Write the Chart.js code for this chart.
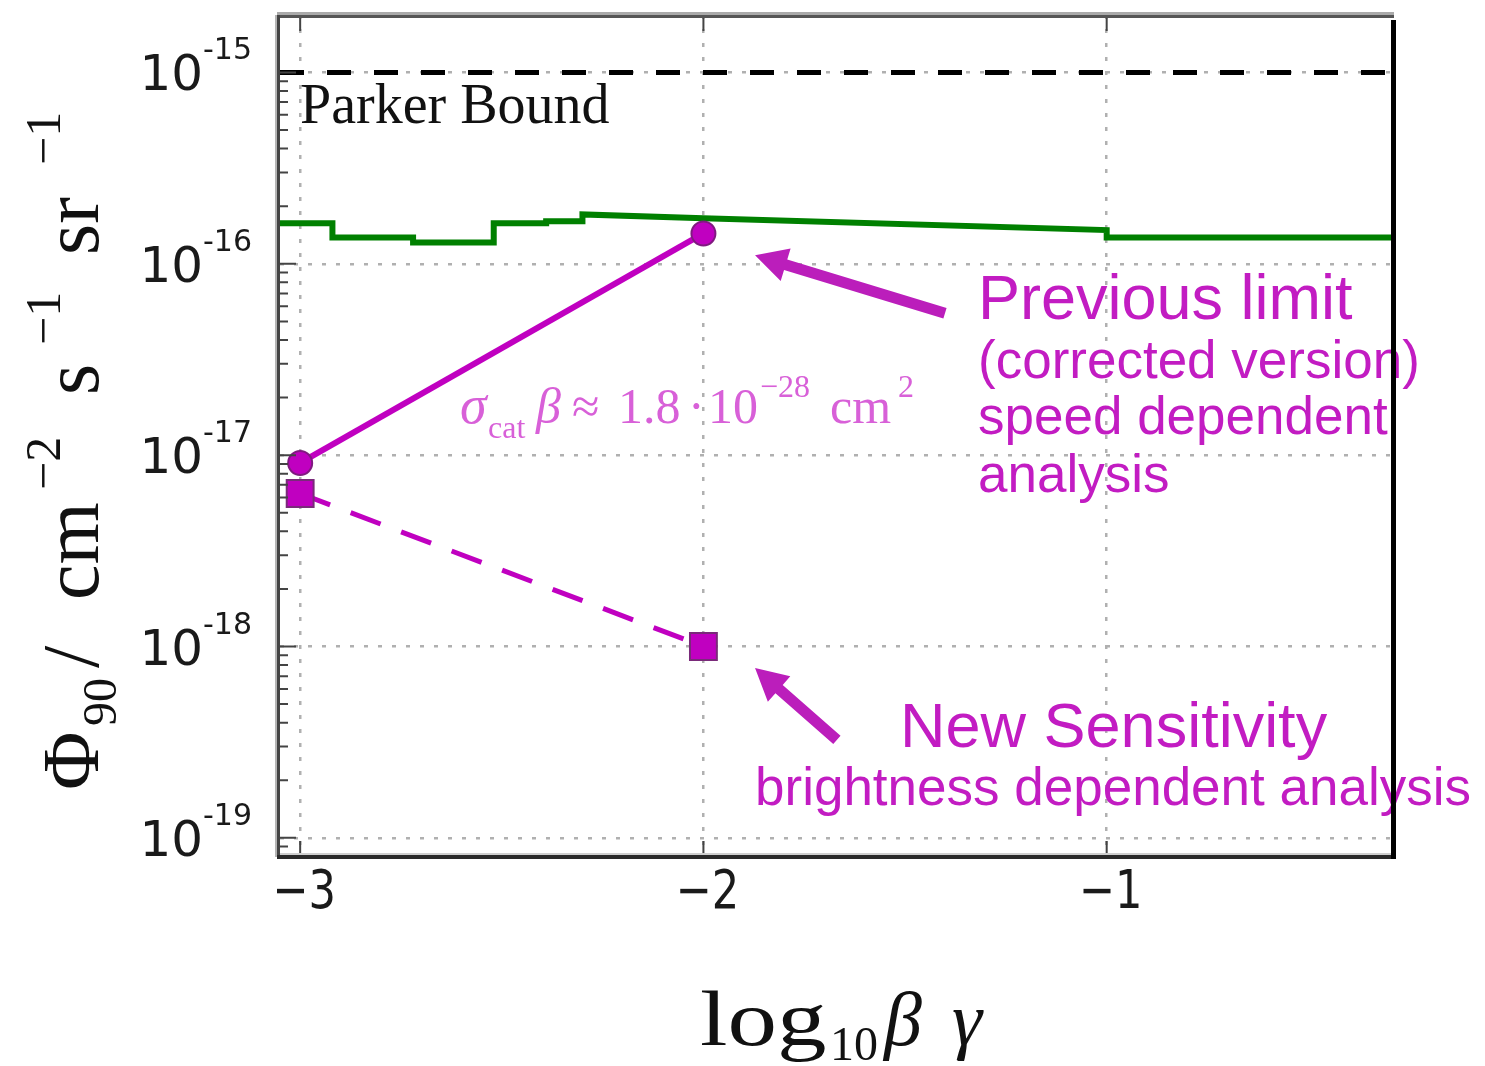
<!DOCTYPE html>
<html>
<head>
<meta charset="utf-8">
<script src="https://cdn.jsdelivr.net/npm/chart.js@4.4.1/dist/chart.umd.min.js"></script>
<style>
  html, body { margin: 0; padding: 0; background: #fff; }
  canvas { display: block; }
</style>
</head>
<body>
<canvas id="limitChart" width="1485" height="1066"></canvas>
<script>
// axis ranges (x is log10 of beta*gamma, y is the 90% flux limit)
const xMin = -3.05, xMax = -0.29;
const yMinExp = -19.1, yMaxExp = -14.7;
const xTicks = [-3, -2, -1];
const yTickExps = [-15, -16, -17, -18, -19];

// Parker bound
const parkerX = [xMin, xMax];
const parkerY = [1e-15, 1e-15];

// older published limit (green)
const greenX = [-3.05, -2.92, -2.92, -2.72, -2.72, -2.52, -2.52, -2.39, -2.39, -2.30, -2.30, -2.0, -1.0, -1.0, -0.29];
const greenY = [1.63e-16, 1.63e-16, 1.37e-16, 1.37e-16, 1.29e-16, 1.29e-16, 1.63e-16, 1.63e-16, 1.67e-16, 1.67e-16, 1.81e-16, 1.73e-16, 1.50e-16, 1.37e-16, 1.37e-16];

// previous limit, speed dependent analysis
const prevX = [-3, -2];
const prevY = [9.1e-18, 1.44e-16];

// new sensitivity, brightness dependent analysis
const newX = [-3, -2];
const newY = [6.3e-18, 1.0e-18];

// arrows: [tailX, tailY, headX, headY]
const arrowPrev = [-1.401, 5.51e-17, -1.872, 1.107e-16];
const arrowNew = [-1.669, 3.25e-19, -1.872, 7.73e-19];

const magenta = '#c000c0';
const textMagenta = '#c21cc2';

function pts(xs, ys) {
  return xs.map((x, i) => ({ x: x, y: ys[i] }));
}

function drawArrow(ctx, x1, y1, x2, y2) {
  const ang = Math.atan2(y2 - y1, x2 - x1);
  const len = Math.hypot(x2 - x1, y2 - y1);
  const shaft = 5.5, headLen = 32, headW = 17;
  ctx.save();
  ctx.translate(x1, y1);
  ctx.rotate(ang);
  ctx.fillStyle = '#bb1ebb';
  ctx.beginPath();
  ctx.moveTo(0, -shaft);
  ctx.lineTo(len - headLen, -shaft);
  ctx.lineTo(len - headLen, -headW);
  ctx.lineTo(len, 0);
  ctx.lineTo(len - headLen, headW);
  ctx.lineTo(len - headLen, shaft);
  ctx.lineTo(0, shaft);
  ctx.closePath();
  ctx.fill();
  ctx.restore();
}

// draws a run of text pieces: [text, font, x, baseline, xStretch]
function drawPieces(ctx, pieces, color) {
  ctx.fillStyle = color;
  ctx.textAlign = 'left';
  ctx.textBaseline = 'alphabetic';
  pieces.forEach(p => {
    ctx.font = p[1];
    ctx.save();
    ctx.translate(p[2], p[3]);
    ctx.scale(p[4] || 1, 1);
    ctx.fillText(p[0], 0, 0);
    ctx.restore();
  });
}

const decor = {
  id: 'decor',
  afterDatasetsDraw(chart) {
    const ctx = chart.ctx;
    const sx = chart.scales.x, sy = chart.scales.y;

    [arrowPrev, arrowNew].forEach(a => {
      drawArrow(ctx, sx.getPixelForValue(a[0]), sy.getPixelForValue(a[1]),
        sx.getPixelForValue(a[2]), sy.getPixelForValue(a[3]));
    });

    // Parker bound label
    ctx.fillStyle = '#111';
    ctx.font = '56px "Liberation Serif"';
    ctx.textAlign = 'left';
    ctx.fillText('Parker Bound', 300, 123);

    // cross section note
    const serif = '"Liberation Serif"';
    drawPieces(ctx, [
      ['σ', 'italic 54px ' + serif, 460, 423],
      ['cat', '32px ' + serif, 488, 438],
      ['β', 'italic 50px ' + serif, 536, 423],
      ['≈', '50px ' + serif, 572, 423],
      ['1.8', '50px ' + serif, 618, 423],
      ['·', '50px ' + serif, 688, 423],
      ['10', '50px ' + serif, 708, 423],
      ['−28', '32px ' + serif, 760, 397],
      ['cm', '50px ' + serif, 830, 423],
      ['2', '32px ' + serif, 898, 397]
    ], '#d860d8');

    // annotations
    const sans = '"Liberation Sans"';
    drawPieces(ctx, [
      ['Previous limit', '63px ' + sans, 978, 319],
      ['(corrected version)', '53px ' + sans, 978, 378],
      ['speed dependent', '53px ' + sans, 978, 434],
      ['analysis', '53px ' + sans, 978, 492],
      ['New Sensitivity', '63px ' + sans, 900, 747],
      ['brightness dependent analysis', '53px ' + sans, 755, 805]
    ], textMagenta);
  },
  afterDraw(chart) {
    const ctx = chart.ctx;
    const { left, right, top, bottom } = chart.chartArea;
    const sx = chart.scales.x, sy = chart.scales.y;

    // inward tick marks
    ctx.strokeStyle = '#444';
    ctx.lineWidth = 2;
    ctx.beginPath();
    xTicks.forEach(v => {
      const px = sx.getPixelForValue(v);
      ctx.moveTo(px, bottom); ctx.lineTo(px, bottom - 16);
      ctx.moveTo(px, top); ctx.lineTo(px, top + 16);
    });
    for (let e = -20; e <= -14; e++) {
      for (let m = 1; m <= 9; m++) {
        const v = m * Math.pow(10, e);
        if (v < sy.min || v > sy.max) continue;
        const py = sy.getPixelForValue(v);
        ctx.moveTo(left, py); ctx.lineTo(left + (m === 1 ? 16 : 8), py);
      }
    }
    ctx.stroke();

    // frame
    const w = right - left;
    ctx.fillStyle = '#aaa'; ctx.fillRect(left - 3, top - 3, w + 4, 3);
    ctx.fillStyle = '#555'; ctx.fillRect(left - 3, top, w + 4, 3);
    ctx.fillStyle = '#b5b5b5'; ctx.fillRect(left - 5, top, 2, bottom - top);
    ctx.fillStyle = '#444'; ctx.fillRect(left - 3, top, 3, bottom - top + 2);
    ctx.fillStyle = '#cfcfcf'; ctx.fillRect(left, bottom - 4, w, 2);
    ctx.fillStyle = '#2a2a2a'; ctx.fillRect(left - 3, bottom - 2, w + 5, 4);
    ctx.fillStyle = '#000'; ctx.fillRect(right - 2, top + 5, 5, bottom - top - 3);

    // y tick labels 10^n
    ctx.fillStyle = '#1a1a1a';
    ctx.textAlign = 'right';
    ctx.textBaseline = 'alphabetic';
    yTickExps.forEach(e => {
      const py = sy.getPixelForValue(Math.pow(10, e));
      const expTxt = String(e);
      ctx.font = '30px "DejaVu Sans"';
      const ew = ctx.measureText(expTxt).width;
      ctx.fillText(expTxt, 252, py - 13);
      ctx.font = '50px "DejaVu Sans"';
      ctx.fillText('10', 252 - ew, py + 18);
    });

    // x tick labels
    xTicks.forEach(v => {
      const px = sx.getPixelForValue(v);
      ctx.save();
      ctx.translate(px + 4, 908);
      ctx.scale(0.8, 1);
      ctx.font = '54px "DejaVu Sans"';
      ctx.textAlign = 'center';
      ctx.fillText('−' + Math.abs(v), 0, 0);
      ctx.restore();
    });

    // x axis title
    const serif = '"Liberation Serif"';
    drawPieces(ctx, [
      ['log', '78px ' + serif, 700, 1045, 1.27],
      ['10', '48px ' + serif, 830, 1060],
      ['β', 'italic 76px ' + serif, 884, 1045],
      ['γ', 'italic 76px ' + serif, 952, 1045]
    ], '#111');

    // y axis title, rotated
    ctx.save();
    ctx.translate(98, 790);
    ctx.rotate(-Math.PI / 2);
    drawPieces(ctx, [
      ['Φ', '80px ' + serif, 0, 0],
      ['90', '48px ' + serif, 64, 18],
      ['/', '80px ' + serif, 122, 0],
      ['cm', '80px ' + serif, 190, 0],
      ['−2', '50px ' + serif, 300, -38],
      ['s', '80px ' + serif, 395, 0],
      ['−1', '50px ' + serif, 445, -38],
      ['sr', '80px ' + serif, 535, 0],
      ['−1', '50px ' + serif, 625, -38]
    ], '#111');
    ctx.restore();
  }
};

new Chart(document.getElementById('limitChart').getContext('2d'), {
  type: 'scatter',
  data: {
    datasets: [
      {
        data: pts(newX, newY),
        showLine: true,
        borderColor: magenta,
        borderWidth: 5,
        borderDash: [32, 22],
        pointStyle: 'rect',
        pointRadius: 19,
        pointBackgroundColor: magenta,
        pointBorderColor: '#7a2a7a',
        pointBorderWidth: 2
      },
      {
        data: pts(prevX, prevY),
        showLine: true,
        borderColor: magenta,
        borderWidth: 6,
        pointRadius: 12,
        pointBackgroundColor: magenta,
        pointBorderColor: '#801a80',
        pointBorderWidth: 2
      },
      {
        data: pts(greenX, greenY),
        showLine: true,
        borderColor: '#008000',
        borderWidth: 6,
        pointRadius: 0
      },
      {
        data: pts(parkerX, parkerY),
        showLine: true,
        borderColor: '#000',
        borderWidth: 5,
        borderDash: [24, 23],
        pointRadius: 0
      }
    ]
  },
  options: {
    responsive: false,
    animation: false,
    events: [],
    layout: { autoPadding: false, padding: { left: 280, top: 15, right: 92, bottom: 209 } },
    plugins: {
      legend: { display: false },
      tooltip: { enabled: false }
    },
    scales: {
      x: {
        type: 'linear',
        min: xMin,
        max: xMax,
        afterBuildTicks: s => { s.ticks = xTicks.map(v => ({ value: v })); },
        ticks: { display: false },
        grid: { color: '#b0b0b0', lineWidth: 2.5, drawTicks: false },
        border: { display: false, dash: [4, 10] }
      },
      y: {
        type: 'logarithmic',
        min: Math.pow(10, yMinExp),
        max: Math.pow(10, yMaxExp),
        afterBuildTicks: s => { s.ticks = yTickExps.map(e => ({ value: Math.pow(10, e) })); },
        ticks: { display: false },
        grid: { color: '#b0b0b0', lineWidth: 2.5, drawTicks: false },
        border: { display: false, dash: [4, 10] }
      }
    }
  },
  plugins: [decor]
});
</script>
</body>
</html>
